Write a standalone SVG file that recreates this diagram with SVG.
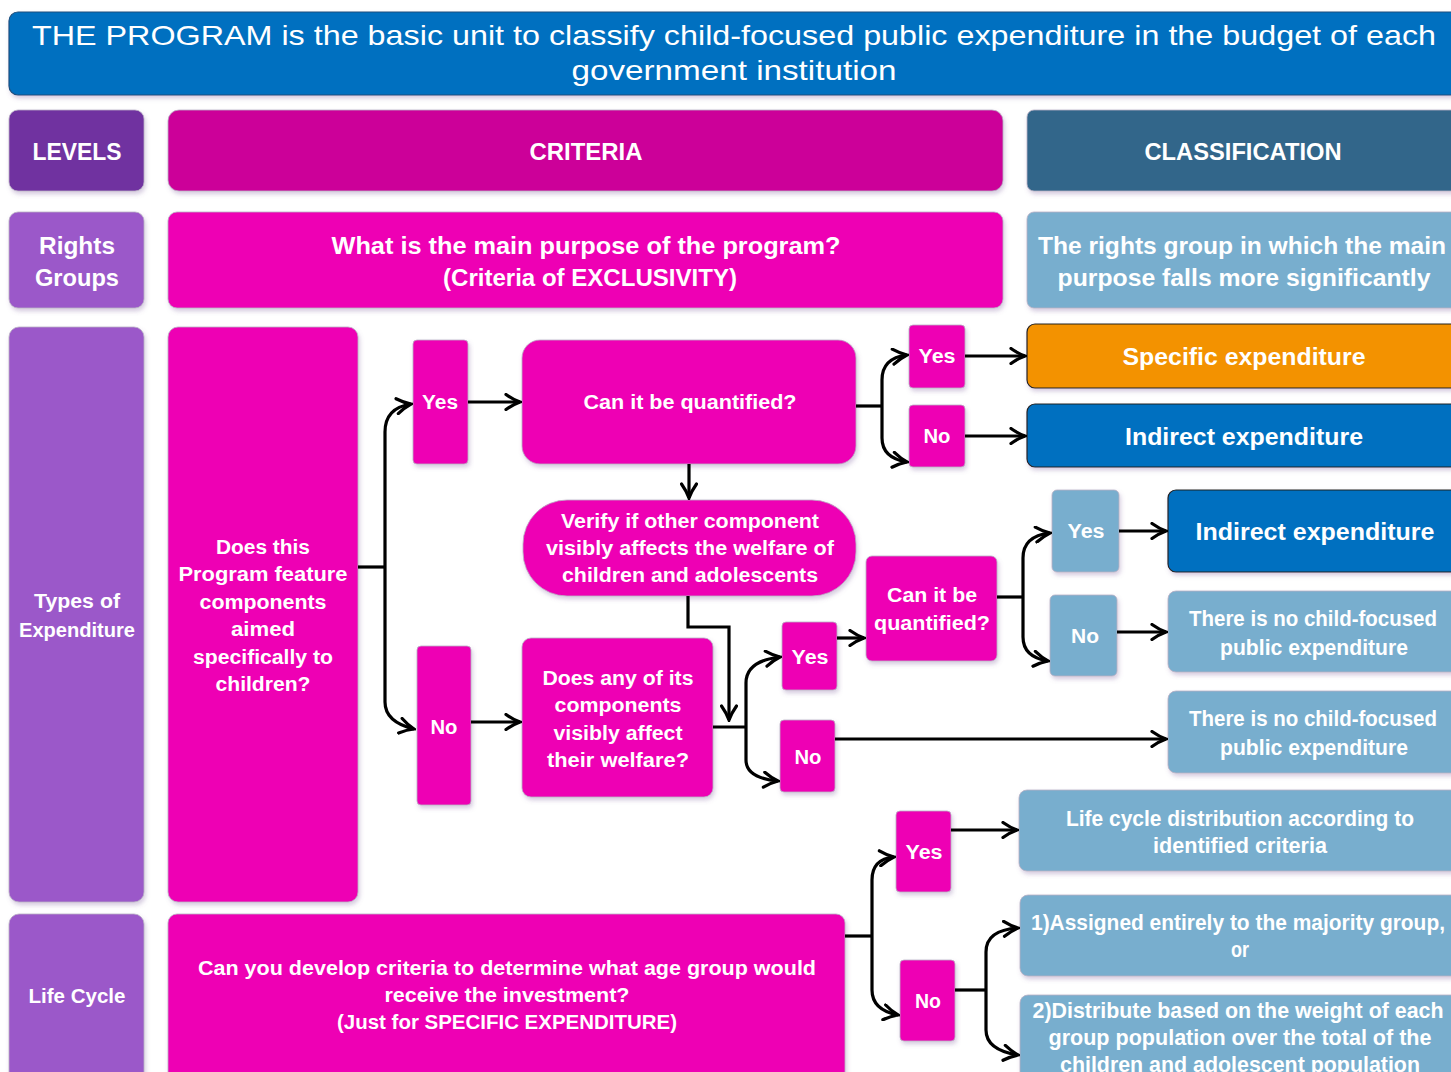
<svg xmlns="http://www.w3.org/2000/svg" width="1451" height="1072" viewBox="0 0 1451 1072">
<defs>
<filter id="sh" x="-10%" y="-10%" width="120%" height="130%">
<feDropShadow dx="1.5" dy="3" stdDeviation="2" flood-color="#7a5a9a" flood-opacity="0.3"/>
</filter>
<marker id="ah" viewBox="0 0 18 18" refX="16" refY="9" markerWidth="18" markerHeight="18" markerUnits="userSpaceOnUse" orient="auto">
<path d="M2,1.5 Q9,6.5 16,9 Q9,11.5 2,16.5" fill="none" stroke="#000" stroke-width="3.2" stroke-linecap="round"/>
</marker>
</defs>
<style>
rect{filter:url(#sh);stroke:#b9b0c4;stroke-width:0.8}
.banner{fill:#0070C0;stroke:#1b4f7e;stroke-width:1.2}
.lev{fill:#7030A0}
.crit{fill:#CC0099}
.cls{fill:#31668A}
.pur{fill:#9B58C9}
.mag{fill:#EE00B4}
.lb{fill:#78AECE}
.org{fill:#F39200;stroke:#222;stroke-width:1.2}
.blu{fill:#0070C0;stroke:#222;stroke-width:1.2}
text{font-family:"Liberation Sans",Arial,sans-serif;font-weight:bold;fill:#fff;text-anchor:middle;dominant-baseline:central}
.t28{font-size:28px;font-weight:normal}
.t24{font-size:24px}
.t22{font-size:22px}
.t20{font-size:20px}
.c path{fill:none;stroke:#000;stroke-width:3.2}
</style>

<g id="banner"><rect class="banner" x="9" y="12" width="1460" height="83" rx="9"/>
<text class="t28" x="734" y="35" textLength="1404" lengthAdjust="spacingAndGlyphs">THE PROGRAM is the basic unit to classify child-focused public expenditure in the budget of each</text>
<text class="t28" x="734" y="70" textLength="325" lengthAdjust="spacingAndGlyphs">government institution</text></g>

<g id="levels"><rect class="lev" x="9" y="110" width="135" height="81" rx="9"/>
<text class="t24" x="77" y="151" textLength="89" lengthAdjust="spacingAndGlyphs">LEVELS</text></g>
<g id="criteria"><rect class="crit" x="168" y="110" width="835" height="81" rx="11"/>
<text class="t24" x="586" y="151" textLength="113" lengthAdjust="spacingAndGlyphs">CRITERIA</text></g>
<g id="classification"><rect class="cls" x="1027" y="110" width="440" height="81" rx="7"/>
<text class="t24" x="1243" y="151" textLength="197" lengthAdjust="spacingAndGlyphs">CLASSIFICATION</text></g>

<g id="rights"><rect class="pur" x="9" y="212" width="135" height="96" rx="9"/>
<text class="t24" x="77" y="245" textLength="76" lengthAdjust="spacingAndGlyphs">Rights</text>
<text class="t24" x="77" y="277" textLength="84" lengthAdjust="spacingAndGlyphs">Groups</text></g>
<g id="purpose"><rect class="mag" x="168" y="212" width="835" height="96" rx="9"/>
<text class="t24" x="586" y="245" textLength="509" lengthAdjust="spacingAndGlyphs">What is the main purpose of the program?</text>
<text class="t24" x="590" y="277" textLength="294" lengthAdjust="spacingAndGlyphs">(Criteria of EXCLUSIVITY)</text></g>
<g id="rightsgroup"><rect class="lb" x="1027" y="212" width="440" height="96" rx="7"/>
<text class="t24" x="1242" y="245" textLength="408" lengthAdjust="spacingAndGlyphs">The rights group in which the main</text>
<text class="t24" x="1244" y="277" textLength="373" lengthAdjust="spacingAndGlyphs">purpose falls more significantly</text></g>

<g id="types"><rect class="pur" x="9" y="327" width="135" height="575" rx="10"/>
<text class="t20" x="77" y="601" textLength="86" lengthAdjust="spacingAndGlyphs">Types of</text>
<text class="t20" x="77" y="630" textLength="116" lengthAdjust="spacingAndGlyphs">Expenditure</text></g>
<g id="doesthis"><rect class="mag" x="168" y="327" width="190" height="575" rx="10"/>
<text class="t20" x="263" y="547" textLength="94" lengthAdjust="spacingAndGlyphs">Does this</text>
<text class="t20" x="263" y="574" textLength="169" lengthAdjust="spacingAndGlyphs">Program feature</text>
<text class="t20" x="263" y="602" textLength="127" lengthAdjust="spacingAndGlyphs">components</text>
<text class="t20" x="263" y="629" textLength="64" lengthAdjust="spacingAndGlyphs">aimed</text>
<text class="t20" x="263" y="657" textLength="140" lengthAdjust="spacingAndGlyphs">specifically to</text>
<text class="t20" x="263" y="684" textLength="95" lengthAdjust="spacingAndGlyphs">children?</text></g>

<g id="yes1"><rect class="mag" x="413" y="340" width="55" height="124" rx="4"/>
<text class="t20" x="440" y="402" textLength="36" lengthAdjust="spacingAndGlyphs">Yes</text></g>
<g id="no1"><rect class="mag" x="417" y="646" width="54" height="159" rx="4"/>
<text class="t20" x="444" y="727" textLength="27" lengthAdjust="spacingAndGlyphs">No</text></g>

<g id="canq1"><rect class="mag" x="522" y="340" width="334" height="124" rx="18"/>
<text class="t20" x="690" y="402" textLength="213" lengthAdjust="spacingAndGlyphs">Can it be quantified?</text></g>
<g id="yes2"><rect class="mag" x="909" y="325" width="56" height="63" rx="4"/>
<text class="t20" x="937" y="356" textLength="37" lengthAdjust="spacingAndGlyphs">Yes</text></g>
<g id="no2"><rect class="mag" x="909" y="405" width="56" height="62" rx="4"/>
<text class="t20" x="937" y="436" textLength="27" lengthAdjust="spacingAndGlyphs">No</text></g>
<g id="specific"><rect class="org" x="1027" y="324" width="440" height="64" rx="8"/>
<text class="t24" x="1244" y="356" textLength="243" lengthAdjust="spacingAndGlyphs">Specific expenditure</text></g>
<g id="indirect1"><rect class="blu" x="1027" y="404" width="440" height="63" rx="8"/>
<text class="t24" x="1244" y="436" textLength="238" lengthAdjust="spacingAndGlyphs">Indirect expenditure</text></g>

<g id="verify"><rect class="mag" x="523" y="500" width="333" height="96" rx="44"/>
<text class="t20" x="690" y="521" textLength="258" lengthAdjust="spacingAndGlyphs">Verify if other component</text>
<text class="t20" x="690" y="548" textLength="288" lengthAdjust="spacingAndGlyphs">visibly affects the welfare of</text>
<text class="t20" x="690" y="575" textLength="256" lengthAdjust="spacingAndGlyphs">children and adolescents</text></g>

<g id="doesany"><rect class="mag" x="522" y="638" width="191" height="159" rx="9"/>
<text class="t20" x="618" y="678" textLength="151" lengthAdjust="spacingAndGlyphs">Does any of its</text>
<text class="t20" x="618" y="705" textLength="127" lengthAdjust="spacingAndGlyphs">components</text>
<text class="t20" x="618" y="733" textLength="129" lengthAdjust="spacingAndGlyphs">visibly affect</text>
<text class="t20" x="618" y="760" textLength="142" lengthAdjust="spacingAndGlyphs">their welfare?</text></g>

<g id="yes3"><rect class="mag" x="782" y="622" width="55" height="68" rx="4"/>
<text class="t20" x="810" y="657" textLength="37" lengthAdjust="spacingAndGlyphs">Yes</text></g>
<g id="no3"><rect class="mag" x="780" y="720" width="55" height="72" rx="4"/>
<text class="t20" x="808" y="757" textLength="27" lengthAdjust="spacingAndGlyphs">No</text></g>

<g id="canq2"><rect class="mag" x="866" y="556" width="131" height="105" rx="6"/>
<text class="t20" x="932" y="595" textLength="90" lengthAdjust="spacingAndGlyphs">Can it be</text>
<text class="t20" x="932" y="623" textLength="116" lengthAdjust="spacingAndGlyphs">quantified?</text></g>
<g id="yes4"><rect class="lb" x="1052" y="490" width="67" height="82" rx="5"/>
<text class="t20" x="1086" y="531" textLength="37" lengthAdjust="spacingAndGlyphs">Yes</text></g>
<g id="no4"><rect class="lb" x="1050" y="595" width="67" height="81" rx="5"/>
<text class="t20" x="1085" y="636" textLength="28" lengthAdjust="spacingAndGlyphs">No</text></g>
<g id="indirect2"><rect class="blu" x="1168" y="490" width="300" height="82" rx="8"/>
<text class="t24" x="1315" y="531" textLength="239" lengthAdjust="spacingAndGlyphs">Indirect expenditure</text></g>
<g id="nochild1"><rect class="lb" x="1168" y="591" width="300" height="81" rx="8"/>
<text class="t22" x="1313" y="618" textLength="248" lengthAdjust="spacingAndGlyphs">There is no child-focused</text>
<text class="t22" x="1314" y="647" textLength="188" lengthAdjust="spacingAndGlyphs">public expenditure</text></g>
<g id="nochild2"><rect class="lb" x="1168" y="691" width="300" height="82" rx="8"/>
<text class="t22" x="1313" y="718" textLength="248" lengthAdjust="spacingAndGlyphs">There is no child-focused</text>
<text class="t22" x="1314" y="747" textLength="188" lengthAdjust="spacingAndGlyphs">public expenditure</text></g>

<g id="lifecycle"><rect class="pur" x="9" y="914" width="135" height="175" rx="10"/>
<text class="t20" x="77" y="996" textLength="97" lengthAdjust="spacingAndGlyphs">Life Cycle</text></g>
<g id="agegroup"><rect class="mag" x="168" y="914" width="677" height="175" rx="9"/>
<text class="t20" x="507" y="968" textLength="618" lengthAdjust="spacingAndGlyphs">Can you develop criteria to determine what age group would</text>
<text class="t20" x="507" y="995" textLength="245" lengthAdjust="spacingAndGlyphs">receive the investment?</text>
<text class="t20" x="507" y="1022" textLength="340" lengthAdjust="spacingAndGlyphs">(Just for SPECIFIC EXPENDITURE)</text></g>
<g id="yes5"><rect class="mag" x="896" y="811" width="55" height="81" rx="4"/>
<text class="t20" x="924" y="852" textLength="37" lengthAdjust="spacingAndGlyphs">Yes</text></g>
<g id="no5"><rect class="mag" x="900" y="960" width="55" height="81" rx="4"/>
<text class="t20" x="928" y="1001" textLength="26" lengthAdjust="spacingAndGlyphs">No</text></g>
<g id="lcdist"><rect class="lb" x="1019" y="790" width="450" height="81" rx="8"/>
<text class="t22" x="1240" y="818" textLength="348" lengthAdjust="spacingAndGlyphs">Life cycle distribution according to</text>
<text class="t22" x="1240" y="845" textLength="174" lengthAdjust="spacingAndGlyphs">identified criteria</text></g>
<g id="assigned"><rect class="lb" x="1020" y="895" width="450" height="81" rx="8"/>
<text class="t22" x="1238" y="922" textLength="414" lengthAdjust="spacingAndGlyphs">1)Assigned entirely to the majority group,</text>
<text class="t22" x="1240" y="949" textLength="18" lengthAdjust="spacingAndGlyphs">or</text></g>
<g id="distribute"><rect class="lb" x="1020" y="995" width="450" height="100" rx="8"/>
<text class="t22" x="1238" y="1010" textLength="411" lengthAdjust="spacingAndGlyphs">2)Distribute based on the weight of each</text>
<text class="t22" x="1240" y="1037" textLength="383" lengthAdjust="spacingAndGlyphs">group population over the total of the</text>
<text class="t22" x="1240" y="1064" textLength="360" lengthAdjust="spacingAndGlyphs">children and adolescent population</text></g>

<g id="connectors" class="c">
<path d="M358,567 H385"/>
<path d="M385,567 V432 Q385,408 411,404" marker-end="url(#ah)"/>
<path d="M385,567 V702 Q385,722 414,729" marker-end="url(#ah)"/>
<path d="M468,402 H520" marker-end="url(#ah)"/>
<path d="M856,406 H882"/>
<path d="M882,406 V380 Q882,358 907,355" marker-end="url(#ah)"/>
<path d="M882,406 V438 Q882,458 907,462" marker-end="url(#ah)"/>
<path d="M965,356 H1025" marker-end="url(#ah)"/>
<path d="M965,436 H1025" marker-end="url(#ah)"/>
<path d="M689,464 V498" marker-end="url(#ah)"/>
<path d="M688,596 V627 H729 V720" marker-end="url(#ah)"/>
<path d="M471,722 H520" marker-end="url(#ah)"/>
<path d="M713,727 H746"/>
<path d="M746,727 V683 Q746,661 780,657" marker-end="url(#ah)"/>
<path d="M746,727 V760 Q746,778 778,781" marker-end="url(#ah)"/>
<path d="M837,638 H864" marker-end="url(#ah)"/>
<path d="M997,597 H1023"/>
<path d="M1023,597 V558 Q1023,536 1050,533" marker-end="url(#ah)"/>
<path d="M1023,597 V637 Q1023,657 1048,661" marker-end="url(#ah)"/>
<path d="M1119,531 H1166" marker-end="url(#ah)"/>
<path d="M1117,632 H1166" marker-end="url(#ah)"/>
<path d="M835,739 H1166" marker-end="url(#ah)"/>
<path d="M845,936 H872"/>
<path d="M872,936 V880 Q872,859 894,857" marker-end="url(#ah)"/>
<path d="M872,936 V990 Q872,1010 898,1015" marker-end="url(#ah)"/>
<path d="M951,830 H1017" marker-end="url(#ah)"/>
<path d="M955,990 H986"/>
<path d="M986,990 V952 Q986,930 1018,928" marker-end="url(#ah)"/>
<path d="M986,990 V1030 Q986,1050 1018,1055" marker-end="url(#ah)"/>
</g>
</svg>
